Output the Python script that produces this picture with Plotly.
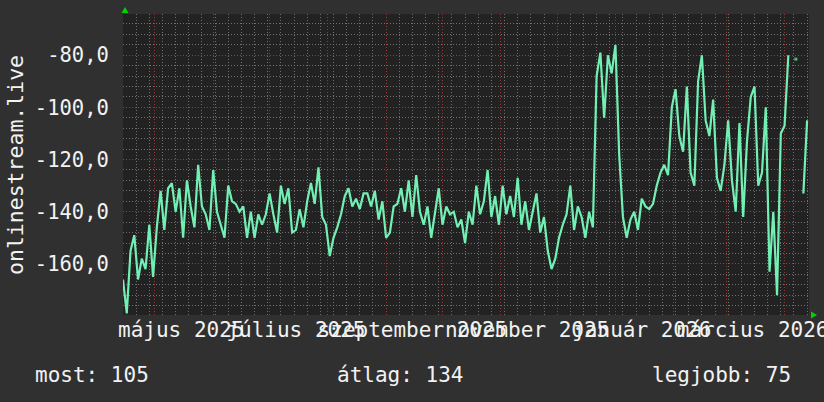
import plotly.graph_objects as go
import pandas as pd

# ---- data (rank, shown as negative values), one sample every 2 days ----
start_date = "2025-04-14"
end_date = "2026-04-14"
step_days = 2
rank_values = [
    -166, -179, -155, -149, -166, -158, -162, -145, -165, -146,
    -132, -147, -131, -129, -140, -131, -150, -128, -138, -146,
    -122, -138, -141, -147, -124, -140, -145, -150, -130, -136,
    -137, -140, -138, -150, -140, -150, -141, -145, -141, -133,
    -141, -148, -130, -137, -131, -148, -147, -139, -146, -136,
    -129, -137, -123, -142, -145, -157, -150, -146, -141, -134,
    -131, -138, -135, -139, -133, -133, -138, -132, -143, -136,
    -150, -148, -138, -137, -131, -140, -128, -142, -126, -140,
    -145, -138, -150, -141, -131, -145, -138, -141, -140, -146,
    -143, -152, -140, -145, -130, -141, -136, -124, -142, -134,
    -145, -130, -141, -134, -142, -127, -145, -136, -147, -140,
    -133, -148, -142, -155, -162, -158, -150, -145, -141, -130,
    -147, -138, -142, -150, -140, -146, -88, -79, -104, -80,
    -87, -76, -118, -142, -150, -143, -140, -147, -135, -138,
    -139, -137, -130, -125, -122, -126, -100, -93, -111, -117,
    -92, -125, -130, -90, -80, -105, -111, -97, -127, -132,
    -122, -105, -128, -140, -106, -142, -113, -96, -92, -130,
    -125, -100, -163, -140, -172, -110, -107, -80, None, -81.5,
    None, -133, -105,
]
y_tick_vals = [-160, -140, -120, -100, -80]
y_tick_text = ["-160,0", "-140,0", "-120,0", "-100,0", "-80,0"]
x_label_dates = ["2025-05-15", "2025-07-15", "2025-09-15", "2025-11-15", "2026-01-15", "2026-03-15"]
x_label_text = ["május 2025", "július 2025", "szeptember 2025", "november 2025", "január 2026", "március 2026"]
month_starts = [d.strftime("%Y-%m-%d") for d in pd.date_range("2025-05-01", "2026-04-01", freq="MS")]
y_label = "onlinestream.live"
summary = [("most: 105", 33), ("átlag: 134", 335), ("legjobb: 75", 650)]

dates = pd.date_range(start_date, periods=len(rank_values), freq=f"{step_days}D")

# ---- geometry ----
W, H = 824, 402
L, R, T, B = 123, 809, 14, 315
pw, ph = R - L, B - T
def px(x): return (x - L) / pw
def py(y): return (B - y) / ph

FONT = "DejaVu Sans Mono"
TXT = "#f2f2f2"
MINOR = "rgba(120,120,120,0.9)"
MAJOR = "rgba(160,55,55,0.95)"
LINE = "#72f0b4"

# marker only for isolated points (neighbours missing)
msize = []
for i, v in enumerate(rank_values):
    prev_none = i == 0 or rank_values[i - 1] is None
    next_none = i == len(rank_values) - 1 or rank_values[i + 1] is None
    msize.append(3 if (v is not None and prev_none and next_none) else 0)

fig = go.Figure()
fig.add_trace(go.Scatter(
    x=dates, y=rank_values, mode="lines+markers",
    line=dict(color=LINE, width=2.2),
    marker=dict(size=msize, color=LINE, symbol="square", line=dict(width=0)),
    connectgaps=False, hoverinfo="skip", showlegend=False,
))
fig.add_trace(go.Scatter(x=[start_date, end_date], y=[None, None], xaxis="x2",
                         showlegend=False, hoverinfo="skip"))

fig.update_layout(
    width=W, height=H,
    margin=dict(l=L, r=W - R, t=T, b=H - B),
    paper_bgcolor="#303030", plot_bgcolor="#222222",
    font=dict(family=FONT, size=21, color=TXT),
    xaxis=dict(
        type="date", range=[start_date, end_date], automargin=False,
        tickmode="array", tickvals=x_label_dates, ticktext=x_label_text,
        tickangle=0, ticklabeloverflow="allow",
        showgrid=False, zeroline=False, showline=False,
        ticks="",
        tickfont=dict(family=FONT, size=21, color=TXT),
        minor=dict(showgrid=True, dtick=7 * 86400000, tick0="2025-04-14",
                   gridcolor=MINOR, griddash="1px,2px", gridwidth=1),
        fixedrange=True,
    ),
    xaxis2=dict(
        type="date", range=[start_date, end_date], overlaying="x", automargin=False,
        tickmode="array", tickvals=month_starts, showticklabels=False,
        showgrid=True, gridcolor=MAJOR, griddash="1px,2px", gridwidth=1,
        zeroline=False, showline=False, ticks="", layer="below traces",
        fixedrange=True,
    ),
    yaxis=dict(
        range=[-179.6, -64.2], automargin=False,
        tickmode="array", tickvals=y_tick_vals, ticktext=y_tick_text,
        showgrid=True, gridcolor=MAJOR, griddash="1px,2px", gridwidth=1,
        zeroline=False, showline=False,
        ticks="outside", ticklen=9, tickcolor="rgba(0,0,0,0)",
        tickfont=dict(family=FONT, size=20.5, color=TXT),
        minor=dict(showgrid=True, dtick=4, tick0=-80,
                   gridcolor=MINOR, griddash="1px,2px", gridwidth=1),
        fixedrange=True,
    ),
)

annotations = [dict(
    text=y_label, x=px(15), y=py(165), xref="paper", yref="paper",
    textangle=-90, showarrow=False, xanchor="center", yanchor="middle",
    font=dict(family=FONT, size=21.5, color=TXT),
)]
for txt, xl in summary:
    annotations.append(dict(
        text=txt, x=px(xl), y=py(375), xref="paper", yref="paper",
        showarrow=False, xanchor="left", yanchor="middle",
        font=dict(family=FONT, size=21, color=TXT),
    ))
fig.update_layout(annotations=annotations)

ARROW = "#00d400"
fig.add_shape(type="path", xref="paper", yref="paper",
              path=f"M {px(121.5)} {py(13)} L {px(128.5)} {py(13)} L {px(125)} {py(7)} Z",
              fillcolor=ARROW, line=dict(width=0))
fig.add_shape(type="path", xref="paper", yref="paper",
              path=f"M {px(811)} {py(311.5)} L {px(811)} {py(318.5)} L {px(817)} {py(315)} Z",
              fillcolor=ARROW, line=dict(width=0))

fig.write_html("out.html", config={"displayModeBar": False, "staticPlot": True},
               post_script="document.body.style.margin='0';document.body.style.overflow='hidden';")
